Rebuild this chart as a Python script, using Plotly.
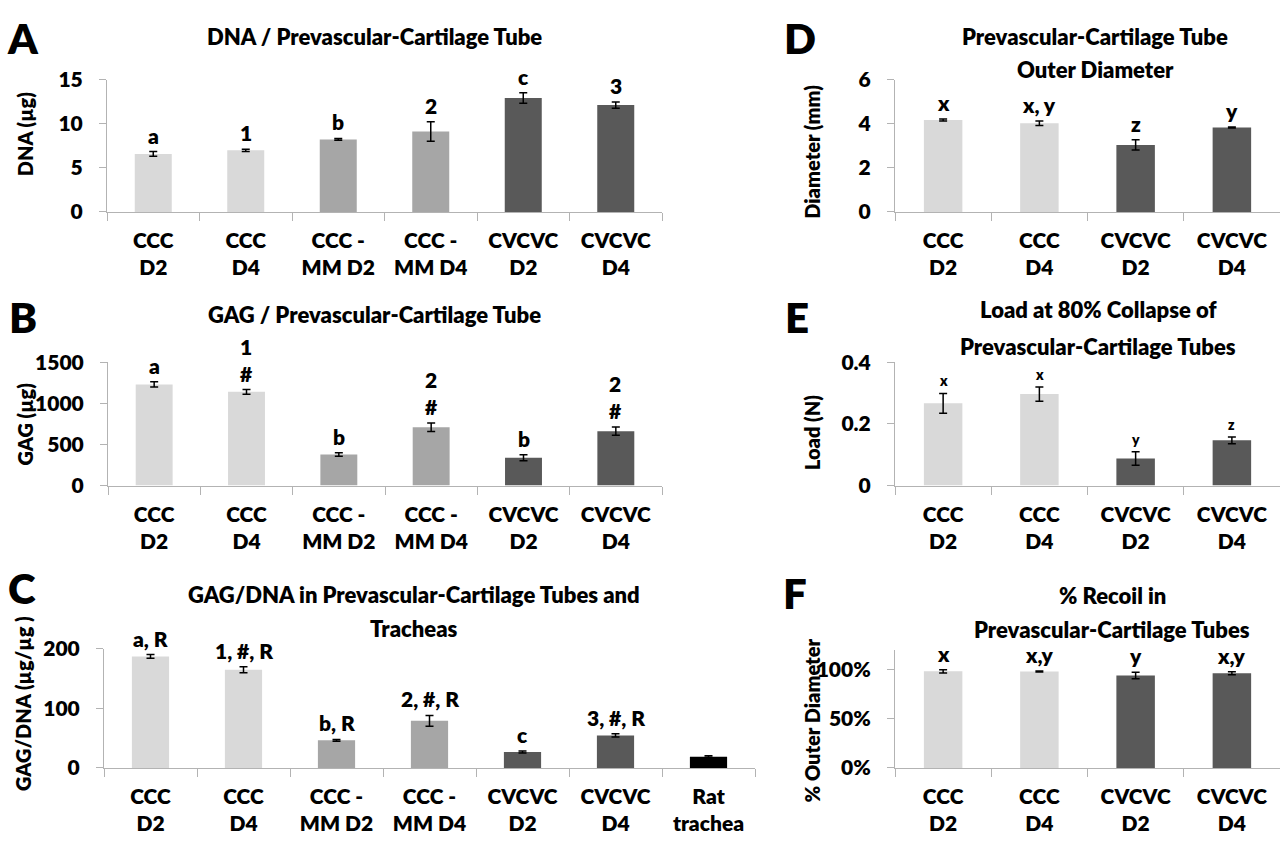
import plotly.graph_objects as go

W, H = 1280, 844

# ---------------- data ----------------
cats6 = ["CCC<br>D2", "CCC<br>D4", "CCC -<br>MM D2", "CCC -<br>MM D4", "CVCVC<br>D2", "CVCVC<br>D4"]
cats4 = ["CCC<br>D2", "CCC<br>D4", "CVCVC<br>D2", "CVCVC<br>D4"]
cats7 = cats6 + ["Rat<br>trachea"]

grp6 = ["ccc", "ccc", "mm", "mm", "cv", "cv"]
grp4 = ["ccc", "ccc", "cv", "cv"]
grp7 = grp6 + ["rat"]

dna = [6.6, 7.0, 8.25, 9.15, 12.95, 12.15]
dna_err = [0.27, 0.12, 0.1, 1.1, 0.6, 0.35]
dna_sig = ["a", "1", "b", "2", "c", "3"]

gag = [1231, 1141, 379, 710, 339, 663]
gag_err = [32, 28, 22, 51, 37, 49]
gag_sig = ["a", "1<br>#", "b", "2<br>#", "b", "2<br>#"]

ratio = [187, 164.5, 46.3, 79, 26.7, 54.5, 19]
ratio_err = [3, 5, 1.6, 9, 1.6, 2.7, 1.5]
ratio_sig = ["a, R", "1, #, R", "b, R", "2, #, R", "c", "3, #, R", ""]

diam = [4.18, 4.03, 3.05, 3.84]
diam_err = [0.05, 0.1, 0.23, 0.02]
diam_sig = ["x", "x, y", "z", "y"]

load = [0.267, 0.297, 0.088, 0.147]
load_err = [0.032, 0.023, 0.022, 0.011]
load_sig = ["x", "x", "y", "z"]

recoil = [0.98, 0.977, 0.938, 0.96]
recoil_err = [0.016, 0.005, 0.033, 0.015]
recoil_sig = ["x", "x,y", "y", "x,y"]

colors = {"ccc": "#d9d9d9", "mm": "#a6a6a6", "cv": "#595959", "rat": "#000000"}

FONT = "Lato"
WT = 800
fig = go.Figure()

# panel geometry in pixels: box=(x0, x1, ytop, ybottom)
panels = [
    dict(k="A", cats=cats6, grp=grp6, v=dna, e=dna_err, s=dna_sig, box=(107, 662, 68, 204),
         rng=[0, 15], dtick=5, fmt="", ytitle="DNA (µg)", ytp=(25, 124),
         title="DNA / Prevascular-Cartilage Tube", tx=374, tpos=[23], sigsize=21, lp=(23, 25)),
    dict(k="B", cats=cats6, grp=grp6, v=gag, e=gag_err, s=gag_sig, box=(108, 662, 359, 486),
         rng=[0, 1500], dtick=500, fmt="", ytitle="GAG (µg)", ytp=(25, 423),
         title="GAG / Prevascular-Cartilage Tube", tx=374, tpos=[310], sigsize=21, lp=(23, 312)),
    dict(k="C", cats=cats7, grp=grp7, v=ratio, e=ratio_err, s=ratio_sig, box=(104, 755, 654, 777),
         rng=[0, 200], dtick=100, fmt="", ytitle="GAG/DNA (µg/µg )", ytp=(23, 711),
         title="GAG/DNA in Prevascular-Cartilage Tubes and<br>Tracheas", tx=414, tpos=[598, 633],
         sigsize=21, lp=(22, 592)),
    dict(k="D", cats=cats4, grp=grp4, v=diam, e=diam_err, s=diam_sig, box=(895, 1280, 68, 204),
         rng=[0, 6], dtick=2, fmt="", ytitle="Diameter (mm)", ytp=(812, 142),
         title="Prevascular-Cartilage Tube<br>Outer Diameter", tx=1095, tpos=[23, 57], sigsize=21,
         lp=(800, 25)),
    dict(k="E", cats=cats4, grp=grp4, v=load, e=load_err, s=load_sig, box=(895, 1280, 359, 486),
         rng=[0, 0.4], dtick=0.2, fmt="", ytitle="Load (N)", ytp=(812, 432),
         title="Load at 80% Collapse of<br>Prevascular-Cartilage Tubes", tx=1098, tpos=[305, 343],
         sigsize=14, lp=(797, 312)),
    dict(k="F", cats=cats4, grp=grp4, v=recoil, e=recoil_err, s=recoil_sig, box=(895, 1280, 655, 777),
         rng=[0, 1.2], dtick=0.5, fmt=".0%", ytitle="% Outer Diameter", ytp=(812, 728),
         title="% Recoil in<br>Prevascular-Cartilage Tubes", tx=1112, tpos=[599, 634], sigsize=21,
         lp=(795, 597)),
]

def tf(size):
    return dict(family=FONT, size=size, color="black", weight=WT)

annotations = []
for i, p in enumerate(panels):
    n = i + 1
    xa = "x" if n == 1 else f"x{n}"
    ya = "y" if n == 1 else f"y{n}"
    x0, x1, yt, yb = p["box"]
    fig.add_trace(go.Bar(
        x=p["cats"], y=p["v"], xaxis=xa, yaxis=ya,
        marker=dict(color=[colors[g] for g in p["grp"]], line=dict(width=0)),
        error_y=dict(type="data", array=p["e"], visible=True, color="black", thickness=1.5, width=4),
        showlegend=False, hoverinfo="skip",
    ))
    xkey = "xaxis" if n == 1 else f"xaxis{n}"
    ykey = "yaxis" if n == 1 else f"yaxis{n}"
    fig.update_layout(**{
        xkey: dict(domain=[x0 / W, min(x1 / W, 1.0)], anchor=ya, type="category",
                   showline=True, linecolor="#b3b3b3", linewidth=1,
                   ticks="outside", tickson="boundaries", ticklen=8, tickcolor="#b3b3b3",
                   tickfont=tf(21), ticklabelstandoff=10, showgrid=False, fixedrange=True),
        ykey: dict(domain=[1 - yb / H, 1 - yt / H], anchor=xa, range=p["rng"], dtick=p["dtick"],
                   tickformat=p["fmt"], showline=True, linecolor="#b3b3b3", linewidth=1,
                   ticks="outside", ticklen=7, tickcolor="#b3b3b3", showgrid=False, zeroline=False,
                   tickfont=tf(21), ticklabelstandoff=12, fixedrange=True),
    })
    # significance labels
    for c, v, e, s in zip(p["cats"], p["v"], p["e"], p["s"]):
        if s:
            annotations.append(dict(x=c, y=v + e, xref=xa, yref=ya, text=s, showarrow=False,
                                    yanchor="bottom", yshift=2, font=tf(p["sigsize"])))
    # panel title
    for line, ty in zip(p["title"].split("<br>"), p["tpos"]):
        annotations.append(dict(x=p["tx"] / W, y=1 - ty / H, xref="paper", yref="paper",
                                text=line, showarrow=False, xanchor="center", yanchor="middle",
                                font=tf(22)))
    # y axis title
    annotations.append(dict(x=p["ytp"][0] / W, y=1 - p["ytp"][1] / H, xref="paper", yref="paper",
                            text=p["ytitle"], textangle=-90, showarrow=False,
                            xanchor="center", yanchor="middle", font=tf(20)))
    # panel letter
    lx, ly = p["lp"]
    annotations.append(dict(x=lx / W, y=1 - ly / H, xref="paper", yref="paper", text=p["k"],
                            showarrow=False, xanchor="center", yanchor="middle", font=tf(42)))

fig.update_layout(
    width=W, height=H, margin=dict(l=0, r=0, t=0, b=0),
    paper_bgcolor="white", plot_bgcolor="white",
    bargap=0.6, annotations=annotations,
    font=dict(family=FONT, color="black", weight=WT),
)

fig.write_html("out.html", post_script="document.body.style.margin='0';document.body.style.overflow='hidden';",
               config={"displayModeBar": False})
